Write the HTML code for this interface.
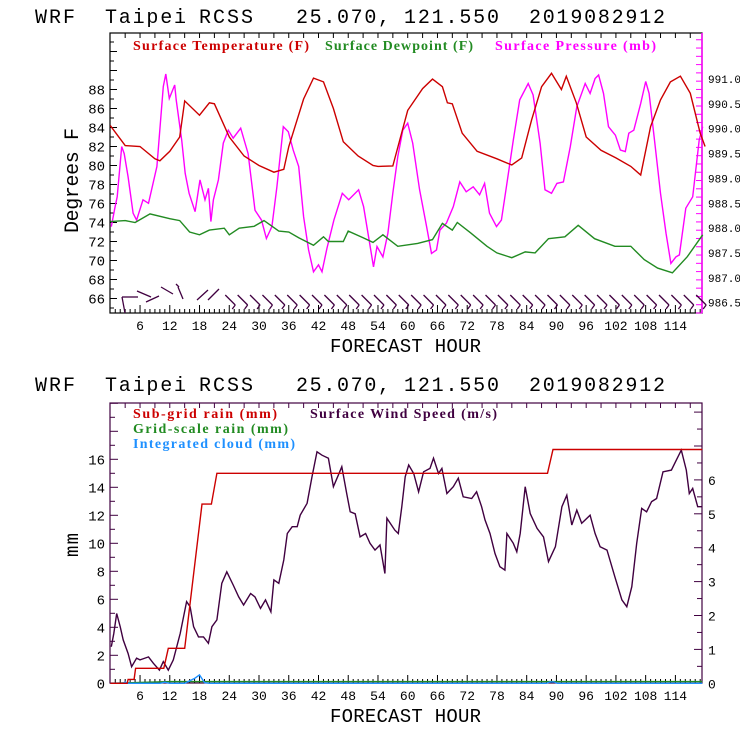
<!DOCTYPE html>
<html><head><meta charset="utf-8"><style>
body{margin:0;background:#fff}
svg{display:block}
.mono{font-family:"Liberation Mono",monospace}
.serif{font-family:"Liberation Serif",serif;font-weight:bold}
</style></head><body>
<svg id="c" width="740" height="740" viewBox="0 0 740 740" xmlns="http://www.w3.org/2000/svg">
<rect width="740" height="740" fill="#fff"/>
<g class="mono" font-size="20" fill="#000">
<text x="35" y="23" textLength="40">WRF</text><text x="105" y="23" textLength="81">Taipei</text><text x="199" y="23" textLength="54">RCSS</text>
<text x="296" y="23" textLength="94">25.070,</text><text x="404" y="23" textLength="95">121.550</text><text x="529" y="23" textLength="136">2019082912</text></g>
<g class="mono" font-size="20" fill="#000">
<text x="35" y="391" textLength="40">WRF</text><text x="105" y="391" textLength="81">Taipei</text><text x="199" y="391" textLength="54">RCSS</text>
<text x="296" y="391" textLength="94">25.070,</text><text x="404" y="391" textLength="95">121.550</text><text x="529" y="391" textLength="136">2019082912</text></g>
<text class="mono" x="330" y="352" font-size="19" textLength="151">FORECAST HOUR</text>
<text class="mono" x="330" y="722" font-size="19" textLength="151">FORECAST HOUR</text>
<text class="mono" font-size="20" transform="translate(78,233) rotate(-90)" textLength="105">Degrees F</text>
<text class="mono" font-size="19" transform="translate(78,557) rotate(-90)" textLength="24">mm</text>
<g class="serif" font-size="14">
<text x="133" y="50" fill="#cc0000" textLength="176">Surface Temperature (F)</text>
<text x="325" y="50" fill="#228b22" textLength="148">Surface Dewpoint (F)</text>
<text x="495" y="50" fill="#ff00ff" textLength="161">Surface Pressure (mb)</text></g>
<g class="serif" font-size="14">
<text x="133" y="418" fill="#cc0000" textLength="144">Sub-grid rain (mm)</text>
<text x="310" y="418" fill="#400040" textLength="187">Surface Wind Speed (m/s)</text>
<text x="133" y="433" fill="#228b22" textLength="155">Grid-scale rain (mm)</text>
<text x="133" y="448" fill="#1e90ff" textLength="162">Integrated cloud (mm)</text></g>
<g id="gtop"></g><g id="gbot"></g>
</svg>
<script>
const tempH=[0,3,6,9,10,12,14,15,18,20,21,24,27,30,33,35,36,39,41,43,45,47,50,53,54,57,60,63,65,67,68,69,71,74,78,81,83,85,87,89,91,92,94,96,99,102,105,107,109,111,113,115,117,119,120];
const tempV=[84.2,82.1,82,80.7,80.5,81.5,83,86.8,85.3,86.6,86.5,83,81,80,79.3,79.6,82,87,89.2,88.8,86,82.5,81,80,79.9,79.95,85.8,88.1,89.1,88.3,86.6,86.5,83.4,81.5,80.7,80.05,80.8,84.8,88.3,89.7,88,89.4,86.6,83,81.6,80.8,79.9,79,84.1,86.9,88.8,89.4,87.6,83.4,82];
const dewH=[0,3,5,8,12,14,16,18,20,23,24,26,29,31,34,36,38,41,43,44,47,48,51,53,55,58,62,65,67,69,70,72.7,76,78,81,83.7,85.7,88.4,91.7,94.4,97.7,101.8,105,107.7,110.4,113.4,116.4,119.5];
const dewV=[74.1,74.2,74.0,74.9,74.4,74.2,73.0,72.7,73.2,73.4,72.7,73.4,73.6,74.2,73.1,73.0,72.4,71.6,72.5,72.0,72.0,73.1,72.4,71.9,72.7,71.5,71.8,72.2,73.9,73.2,74.0,72.9,71.5,70.8,70.3,70.9,70.8,72.3,72.5,73.7,72.3,71.5,71.5,70.1,69.2,68.7,70.4,72.7];
const presH=[0.2,0.9,1.4,2.3,2.8,3.6,4.6,5.3,6.6,7.7,9.4,10.7,11.2,11.9,13,13.3,14.4,15.1,15.9,17.1,18.1,19.1,19.8,20.3,20.8,21.8,22.8,23.8,24.8,26.3,27.8,29.2,30.5,31.5,32.6,33.6,34.9,35.9,36.9,38,39,40,41,42,42.7,43.7,45.1,46.8,48.1,50.1,51.1,52.5,53.1,53.8,55,56,57,58,59,60,61,62.4,63.8,64.8,65.8,66.5,67.8,69.2,70.5,71.8,73.2,74.5,75.5,76.5,77.9,78.9,79.9,81.3,82.6,84.3,85.3,86.7,87.7,89,90.1,91.4,92.8,94.1,95.8,96.8,97.8,98.5,99.5,100.5,101.9,102.9,103.9,104.6,105.6,107,108,108.7,109.7,111,112.1,113.1,114.1,114.8,116.1,117.5,118.8,119.5];
const presV=[988.03,988.40,988.63,989.64,989.50,989.03,988.30,988.16,988.57,988.50,989.24,990.85,991.10,990.61,990.88,990.58,989.77,989.10,988.70,988.33,988.97,988.57,988.80,988.13,988.57,988.97,989.71,989.97,989.81,990.01,989.50,988.36,988.16,987.79,988.03,988.83,990.04,989.94,989.57,989.24,988.23,987.56,987.12,987.26,987.12,987.59,988.16,988.70,988.57,988.77,988.43,987.59,987.22,987.63,987.42,987.90,988.70,989.44,989.97,990.11,989.71,988.77,988.03,987.49,987.56,987.96,988.10,988.43,988.93,988.73,988.83,988.67,988.90,988.30,988.03,988.16,988.83,989.77,990.58,990.91,990.68,989.71,988.77,988.70,988.90,988.93,989.64,990.44,990.91,990.71,991.01,991.08,990.71,990.04,989.87,989.57,989.54,989.91,989.97,990.51,990.95,990.71,989.84,988.70,987.90,987.29,987.42,987.46,988.40,988.63,989.77,990.04];
const windH=[0.2,0.7,1.3,2,2.6,3.6,4.3,5.3,6,7.7,8.7,9.9,10.7,11.7,12.7,14.1,15.4,16.1,16.8,17.8,18.8,19.8,20.5,21.5,22.5,23.5,24.8,25.9,26.9,28.3,29.2,30.3,31.3,32.4,33,34,35,35.7,36.7,37.7,38.3,39.7,40.7,41.7,42.7,44,45,46,46.7,47.7,48.4,49.4,50.4,51.5,52.4,53.4,54.4,55.4,55.8,57.4,58.1,58.8,59.5,60.2,61.2,62.2,63.2,64.5,65.2,66.2,66.9,67.9,69.2,70.2,71.2,72.9,73.9,74.9,75.6,76.6,77.6,78.6,79.6,80,81.3,82,82.7,83.7,84.7,86.1,87.4,88.4,89.8,91.1,92.1,93.1,94.1,95.1,96.8,97.8,98.8,100.2,101.8,103.2,104.2,105.2,106.2,107.2,108.2,109.2,110.2,111.5,113.2,114.2,115.2,116.2,116.8,117.5,118.5,119.4];
const windV=[1.08,1.47,2.06,1.67,1.28,0.88,0.49,0.74,0.69,0.78,0.59,0.39,0.64,0.39,0.69,1.47,2.41,2.26,1.67,1.37,1.37,1.18,1.67,1.87,2.95,3.29,2.9,2.55,2.31,2.65,2.55,2.21,2.46,2.11,3.05,2.95,3.64,4.42,4.62,4.62,4.96,5.31,6.09,6.83,6.73,6.64,5.8,6.14,6.39,5.6,5.06,5.0,4.32,4.42,4.13,3.93,4.08,3.24,4.87,4.52,4.42,5.21,6.09,6.44,6.19,5.65,6.24,6.34,6.64,6.19,6.34,5.6,5.8,6.05,5.5,5.45,5.65,5.21,4.82,4.42,3.83,3.44,3.34,4.42,4.13,3.88,4.42,5.8,5.01,4.57,4.32,3.59,4.03,5.21,5.55,4.67,5.11,4.72,4.96,4.42,4.03,3.93,3.14,2.46,2.26,2.85,4.13,5.16,5.06,5.36,5.45,6.24,6.29,6.59,6.88,6.29,5.6,5.75,5.21,5.21];
const rainH=[0,3.4,3.6,4.8,5.1,10.8,11.7,15,18.5,20.4,21.5,88.2,89.3,119.4];
const rainV=[0,0,0.28,0.28,1.07,1.07,2.5,2.5,12.8,12.8,15,15,16.7,16.7];
const cloudH=[0,2.5,3,3.5,10,11,12,15,17,18,19,20,88,88.7,89.5,90.2,119.4];
const cloudV=[0,0,0.1,0,0,0.08,0,0,0.35,0.6,0.05,0,0,0.1,0.1,0,0];
const gridH=[0,12,119.4];
const gridV=[0,0.12,0.12];
const xTicks=[6,12,18,24,30,36,42,48,54,60,66,72,78,84,90,96,102,108,114];
const tempTicks=[66,68,70,72,74,76,78,80,82,84,86,88];
const presTicks=[986.5,987.0,987.5,988.0,988.5,989.0,989.5,990.0,990.5,991.0];
const mmTicks=[0,2,4,6,8,10,12,14,16];
const windTicks=[0,1,2,3,4,5,6];
const barbH=[24,26.5,29,31.5,34,36.5,39,41.5,44,46.5,49,51.5,54,56.5,59,61.5,64,66.5,69,71.5,74,76.5,79,81.5,84,86.5,89,91.5,94,96.5,99,101.5,104,106.5,109,111.5,114,116.5,119];

const NS='http://www.w3.org/2000/svg';
const X=h=>110.3+4.957*h;
const yT=f=>89.5+(88-f)*9.5;
const yP=p=>79+(991-p)*49.7;
const yM=m=>683.3-14*m;
const yW=w=>683.3-33.9*w;
function mk(tag,attrs,parent){const e=document.createElementNS(NS,tag);for(const k in attrs)e.setAttribute(k,attrs[k]);parent.appendChild(e);return e;}
function line(hs,vs,yf,color,g,name){
  const d=hs.map((h,i)=>(i?'L':'M')+X(h).toFixed(1)+','+yf(vs[i]).toFixed(1)).join('');
  const p=mk('path',{d:d,fill:'none',stroke:color,'stroke-width':1.4},g);
  
  
}
function txt(x,y,s,g,anchor,fill,size){const t=mk('text',{x:x,y:y,'font-size':size||13,'text-anchor':anchor||'middle',fill:fill||'#000','font-family':'Liberation Mono, monospace'},g);t.textContent=s;return t;}

const gTop=document.getElementById('gtop');
const fr=mk('rect',{x:110,y:33,width:592,height:280,fill:'none',stroke:'#000','stroke-width':1.2},gTop);


mk('line',{x1:702,y1:33,x2:702,y2:313,stroke:'#ff00ff','stroke-width':1.5},gTop);
for(let h=1;h<120;h++){mk('line',{x1:X(h),y1:313,x2:X(h),y2:h%6==0?305:309,stroke:'#000'},gTop);}
for(let h=3;h<120;h+=3){mk('line',{x1:X(h),y1:33,x2:X(h),y2:38,stroke:'#000'},gTop);}
for(let f=65;f<=93;f++){mk('line',{x1:110,y1:yT(f),x2:f%2==0?117:114,y2:yT(f),stroke:'#000'},gTop);}
for(let y=313;y>33;y-=8.28){mk('line',{x1:702,y1:y,x2:696,y2:y,stroke:'#ff00ff'},gTop);}
xTicks.forEach(h=>{const t=txt(X(h),330,String(h),gTop);});
tempTicks.forEach(f=>{const t=txt(105,yT(f)+5,String(f),gTop,'end','#000',14);});
presTicks.forEach(p=>{const t=txt(708,yP(p)+4,p.toFixed(1),gTop,'start','#000',11);});
line(presH,presV,yP,'#ff00ff',gTop,'pressure-line');
line(dewH,dewV,yT,'#228b22',gTop,'dewpoint-line');
line(tempH,tempV,yT,'#cc0000',gTop,'temperature-line');
const bg=mk('g',{stroke:'#400040','stroke-width':1.3},gTop);


[[122,297,125,313],[122,297,138,297],[137,291,151,297],[146,302,159,296],[161,287,173,294],[178,287,183,299],[176,284,179,287],[197,300,208,290],[208,300,219,289]].forEach(a=>mk('line',{x1:a[0],y1:a[1],x2:a[2],y2:a[3]},bg));
barbH.forEach(h=>{const x=X(h);mk('line',{x1:x-4,y1:295,x2:x+6,y2:305},bg);mk('line',{x1:x+6,y1:305,x2:x+3,y2:309},bg);});

const gBot=document.getElementById('gbot');
const fb=mk('rect',{x:110,y:403,width:592,height:280,fill:'none',stroke:'#400040','stroke-width':1.2},gBot);


for(let h=1;h<120;h++){mk('line',{x1:X(h),y1:683,x2:X(h),y2:h%6==0?675:679,stroke:'#000'},gBot);}
for(let h=3;h<120;h+=3){mk('line',{x1:X(h),y1:403,x2:X(h),y2:408,stroke:'#400040'},gBot);}
for(let m=0;m<=20;m++){if(yM(m)<403)break;mk('line',{x1:110,y1:yM(m),x2:m%2==0?118:115,y2:yM(m),stroke:'#400040'},gBot);}
for(let w=0;w<=8;w+=0.5){if(yW(w)<403)break;mk('line',{x1:702,y1:yW(w),x2:w%1==0?694:697,y2:yW(w),stroke:'#400040'},gBot);}
xTicks.forEach(h=>{const t=txt(X(h),700,String(h),gBot);});
mmTicks.forEach(m=>{const t=txt(105,yM(m)+5,String(m),gBot,'end','#000',14);});
windTicks.forEach(w=>{const t=txt(708,yW(w)+5,String(w),gBot,'start','#000',13);});
line(windH,windV,yW,'#400040',gBot,'wind-speed-line');
line(gridH,gridV,yM,'#228b22',gBot,'grid-rain-line');
line(cloudH,cloudV,yM,'#1e90ff',gBot,'cloud-line');
line(rainH,rainV,yM,'#cc0000',gBot,'subgrid-rain-line');
</script>
</body></html>
